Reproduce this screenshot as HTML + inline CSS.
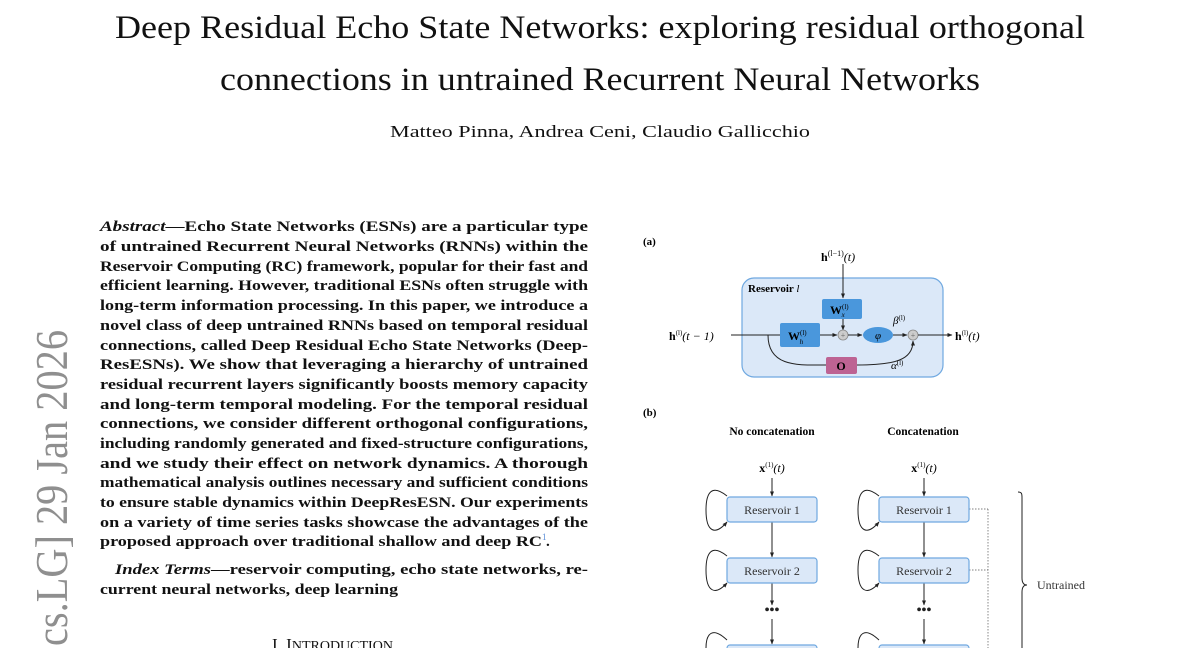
<!DOCTYPE html>
<html><head><meta charset="utf-8"><style>
html,body{margin:0;padding:0;background:#fff;width:1200px;height:648px;overflow:hidden}
svg{display:block}
.s{font-family:"Liberation Serif",serif}
</style></head><body>
<svg width="1200" height="648" viewBox="0 0 1200 648" xmlns="http://www.w3.org/2000/svg" class="s">
<defs>
<marker id="ar" viewBox="0 0 10 10" refX="9" refY="5" markerWidth="5" markerHeight="5" orient="auto"><path d="M0,1 L10,5 L0,9z" fill="#222"/></marker>
</defs>
<text x="115" y="38" font-size="33" textLength="970" lengthAdjust="spacingAndGlyphs" fill="#111">Deep Residual Echo State Networks: exploring residual orthogonal</text>
<text x="220" y="90" font-size="33" textLength="760" lengthAdjust="spacingAndGlyphs" fill="#111">connections in untrained Recurrent Neural Networks</text>
<text x="390" y="137" font-size="17" textLength="420" lengthAdjust="spacingAndGlyphs" fill="#111">Matteo Pinna, Andrea Ceni, Claudio Gallicchio</text>
<text transform="translate(67,330) rotate(-90)" text-anchor="end" font-size="45" fill="#8f8f8f" textLength="316" lengthAdjust="spacingAndGlyphs">cs.LG]  29 Jan 2026</text>
<g font-size="15.2" font-weight="bold" fill="#111">
<text x="100" y="231" textLength="488" lengthAdjust="spacingAndGlyphs"><tspan font-style="italic">Abstract</tspan>—Echo State Networks (ESNs) are a particular type</text>
<text x="100" y="251" textLength="488" lengthAdjust="spacingAndGlyphs">of untrained Recurrent Neural Networks (RNNs) within the</text>
<text x="100" y="271" textLength="488" lengthAdjust="spacingAndGlyphs">Reservoir Computing (RC) framework, popular for their fast and</text>
<text x="100" y="290" textLength="488" lengthAdjust="spacingAndGlyphs">efficient learning. However, traditional ESNs often struggle with</text>
<text x="100" y="310" textLength="488" lengthAdjust="spacingAndGlyphs">long-term information processing. In this paper, we introduce a</text>
<text x="100" y="330" textLength="488" lengthAdjust="spacingAndGlyphs">novel class of deep untrained RNNs based on temporal residual</text>
<text x="100" y="350" textLength="488" lengthAdjust="spacingAndGlyphs">connections, called Deep Residual Echo State Networks (Deep-</text>
<text x="100" y="369" textLength="488" lengthAdjust="spacingAndGlyphs">ResESNs). We show that leveraging a hierarchy of untrained</text>
<text x="100" y="389" textLength="488" lengthAdjust="spacingAndGlyphs">residual recurrent layers significantly boosts memory capacity</text>
<text x="100" y="409" textLength="488" lengthAdjust="spacingAndGlyphs">and long-term temporal modeling. For the temporal residual</text>
<text x="100" y="428" textLength="488" lengthAdjust="spacingAndGlyphs">connections, we consider different orthogonal configurations,</text>
<text x="100" y="448" textLength="488" lengthAdjust="spacingAndGlyphs">including randomly generated and fixed-structure configurations,</text>
<text x="100" y="468" textLength="488" lengthAdjust="spacingAndGlyphs">and we study their effect on network dynamics. A thorough</text>
<text x="100" y="487" textLength="488" lengthAdjust="spacingAndGlyphs">mathematical analysis outlines necessary and sufficient conditions</text>
<text x="100" y="507" textLength="488" lengthAdjust="spacingAndGlyphs">to ensure stable dynamics within DeepResESN. Our experiments</text>
<text x="100" y="527" textLength="488" lengthAdjust="spacingAndGlyphs">on a variety of time series tasks showcase the advantages of the</text>
<text x="100" y="546" textLength="442" lengthAdjust="spacingAndGlyphs">proposed approach over traditional shallow and deep RC</text>
<text x="542" y="540" font-size="9" fill="#5a8fd8" font-weight="normal">1</text>
<text x="546" y="546">.</text>
<text x="115" y="574" textLength="473" lengthAdjust="spacingAndGlyphs"><tspan font-style="italic">Index Terms</tspan>—reservoir computing, echo state networks, re-</text>
<text x="100" y="594" textLength="298" lengthAdjust="spacingAndGlyphs">current neural networks, deep learning</text>
</g>
<text x="272" y="650" font-size="17" fill="#111">I. I<tspan font-size="14">NTRODUCTION</tspan></text>

<text x="643" y="245" font-size="11" font-weight="bold">(a)</text>
<text x="821" y="261" font-size="12" font-weight="bold">h<tspan font-size="8" dy="-5" font-weight="normal">(l−1)</tspan><tspan dy="5" font-weight="normal" font-style="italic">(t)</tspan></text>
<rect x="742" y="278" width="201" height="99" rx="12" fill="#dbe8f8" stroke="#6fa8e0" stroke-width="1.2"/>
<text x="748" y="292" font-size="11" font-weight="bold">Reservoir <tspan font-style="italic" font-weight="normal">l</tspan></text>
<line x1="843" y1="264" x2="843" y2="298" stroke="#222" marker-end="url(#ar)"/>
<rect x="822" y="299" width="40" height="20" rx="2" fill="#4a97dc"/>
<text x="830" y="314" font-size="12" font-weight="bold">W<tspan font-size="7" dy="-5" font-weight="normal">(l)</tspan><tspan font-size="7" dx="-7" dy="8" font-style="italic" font-weight="normal">x</tspan></text>
<line x1="843" y1="319" x2="843" y2="330" stroke="#222" marker-end="url(#ar)"/>
<line x1="731" y1="335" x2="780" y2="335" stroke="#222"/>
<rect x="780" y="323" width="40" height="24" rx="2" fill="#4a97dc"/>
<text x="788" y="340" font-size="12" font-weight="bold">W<tspan font-size="7" dy="-5" font-weight="normal">(l)</tspan><tspan font-size="7" dx="-7" dy="9" font-style="italic" font-weight="normal">h</tspan></text>
<line x1="820" y1="335" x2="837" y2="335" stroke="#222" marker-end="url(#ar)"/>
<circle cx="843" cy="335" r="5" fill="#ccc" stroke="#888" stroke-width="0.8"/>
<text x="843" y="338" font-size="8" text-anchor="middle" fill="#666">+</text>
<line x1="848" y1="335" x2="862" y2="335" stroke="#222" marker-end="url(#ar)"/>
<ellipse cx="878" cy="335" rx="15" ry="8" fill="#4a97dc"/>
<text x="878" y="339" font-size="11" font-style="italic" text-anchor="middle">φ</text>
<line x1="893" y1="335" x2="907" y2="335" stroke="#222" marker-end="url(#ar)"/>
<circle cx="913" cy="335" r="5" fill="#ccc" stroke="#888" stroke-width="0.8"/>
<text x="913" y="338" font-size="8" text-anchor="middle" fill="#666">+</text>
<text x="893" y="324" font-size="11" font-style="italic">β<tspan font-size="7" dy="-4" font-style="normal">(l)</tspan></text>
<line x1="918" y1="335" x2="952" y2="335" stroke="#222" marker-end="url(#ar)"/>
<path d="M768,335 C768,368 800,365 826,365" fill="none" stroke="#222"/>
<path d="M857,365 C895,365 913,360 913,341" fill="none" stroke="#222" marker-end="url(#ar)"/>
<rect x="826" y="357" width="31" height="17" rx="2" fill="#bd6393"/>
<text x="841" y="370" font-size="12" font-weight="bold" text-anchor="middle">O</text>
<text x="891" y="369" font-size="11" font-style="italic">α<tspan font-size="7" dy="-4" font-style="normal">(l)</tspan></text>
<text x="669" y="340" font-size="12" font-weight="bold">h<tspan font-size="7" dy="-5" font-weight="normal">(l)</tspan><tspan dy="5" font-weight="normal" font-style="italic">(t − 1)</tspan></text>
<text x="955" y="340" font-size="12" font-weight="bold">h<tspan font-size="7" dy="-5" font-weight="normal">(l)</tspan><tspan dy="5" font-weight="normal" font-style="italic">(t)</tspan></text>

<text x="643" y="416" font-size="11" font-weight="bold">(b)</text>
<text x="772" y="435" font-size="11.5" font-weight="bold" text-anchor="middle">No concatenation</text>
<text x="923" y="435" font-size="11.5" font-weight="bold" text-anchor="middle">Concatenation</text>
<g font-size="12">
<text x="772" y="472" text-anchor="middle" font-weight="bold">x<tspan font-size="7" dy="-5" font-weight="normal">(1)</tspan><tspan dy="5" font-weight="normal" font-style="italic">(t)</tspan></text>
<text x="924" y="472" text-anchor="middle" font-weight="bold">x<tspan font-size="7" dy="-5" font-weight="normal">(1)</tspan><tspan dy="5" font-weight="normal" font-style="italic">(t)</tspan></text>
</g>
<g stroke="#222" fill="none">
<line x1="772" y1="478" x2="772" y2="496" marker-end="url(#ar)"/>
<line x1="772" y1="522" x2="772" y2="557" marker-end="url(#ar)"/>
<line x1="772" y1="583" x2="772" y2="605" marker-end="url(#ar)"/>
<line x1="772" y1="619" x2="772" y2="644" marker-end="url(#ar)"/>
<line x1="924" y1="478" x2="924" y2="496" marker-end="url(#ar)"/>
<line x1="924" y1="522" x2="924" y2="557" marker-end="url(#ar)"/>
<line x1="924" y1="583" x2="924" y2="605" marker-end="url(#ar)"/>
<line x1="924" y1="619" x2="924" y2="644" marker-end="url(#ar)"/>
<path d="M727,496 C712,484 706,492 706,510 C706,532 715,536 727,522" marker-end="url(#ar)"/>
<path d="M727,556 C712,544 706,552 706,570 C706,592 715,596 727,583" marker-end="url(#ar)"/>
<path d="M727,640 C712,626 706,634 706,648"/>
<path d="M879,496 C864,484 858,492 858,510 C858,532 867,536 879,522" marker-end="url(#ar)"/>
<path d="M879,556 C864,544 858,552 858,570 C858,592 867,596 879,583" marker-end="url(#ar)"/>
<path d="M879,640 C864,626 858,634 858,648"/>
<path d="M969,509 H988 M969,570 H988 M988,509 V648" stroke-dasharray="1.5,1.5" stroke-width="0.7" stroke="#555"/>
<path d="M1018,492 C1022,492 1022,494 1022,498 V578 C1022,583 1024,585 1027,585 C1024,585 1022,587 1022,592 V648" stroke-width="1"/>
</g>
<g fill="#dbe8f8" stroke="#6fa8e0" stroke-width="1.2">
<rect x="727" y="497" width="90" height="25" rx="3"/>
<rect x="727" y="558" width="90" height="25" rx="3"/>
<rect x="727" y="645" width="90" height="25" rx="3"/>
<rect x="879" y="497" width="90" height="25" rx="3"/>
<rect x="879" y="558" width="90" height="25" rx="3"/>
<rect x="879" y="645" width="90" height="25" rx="3"/>
</g>
<g font-size="12" text-anchor="middle" fill="#333">
<text x="772" y="514">Reservoir 1</text>
<text x="772" y="575">Reservoir 2</text>
<text x="924" y="514">Reservoir 1</text>
<text x="924" y="575">Reservoir 2</text>
</g>
<g font-size="14" font-weight="bold" text-anchor="middle" fill="#222">
<text x="772" y="614">•••</text>
<text x="924" y="614">•••</text>
</g>
<text x="1037" y="589" font-size="12" fill="#333">Untrained</text>
</svg>
</body></html>
